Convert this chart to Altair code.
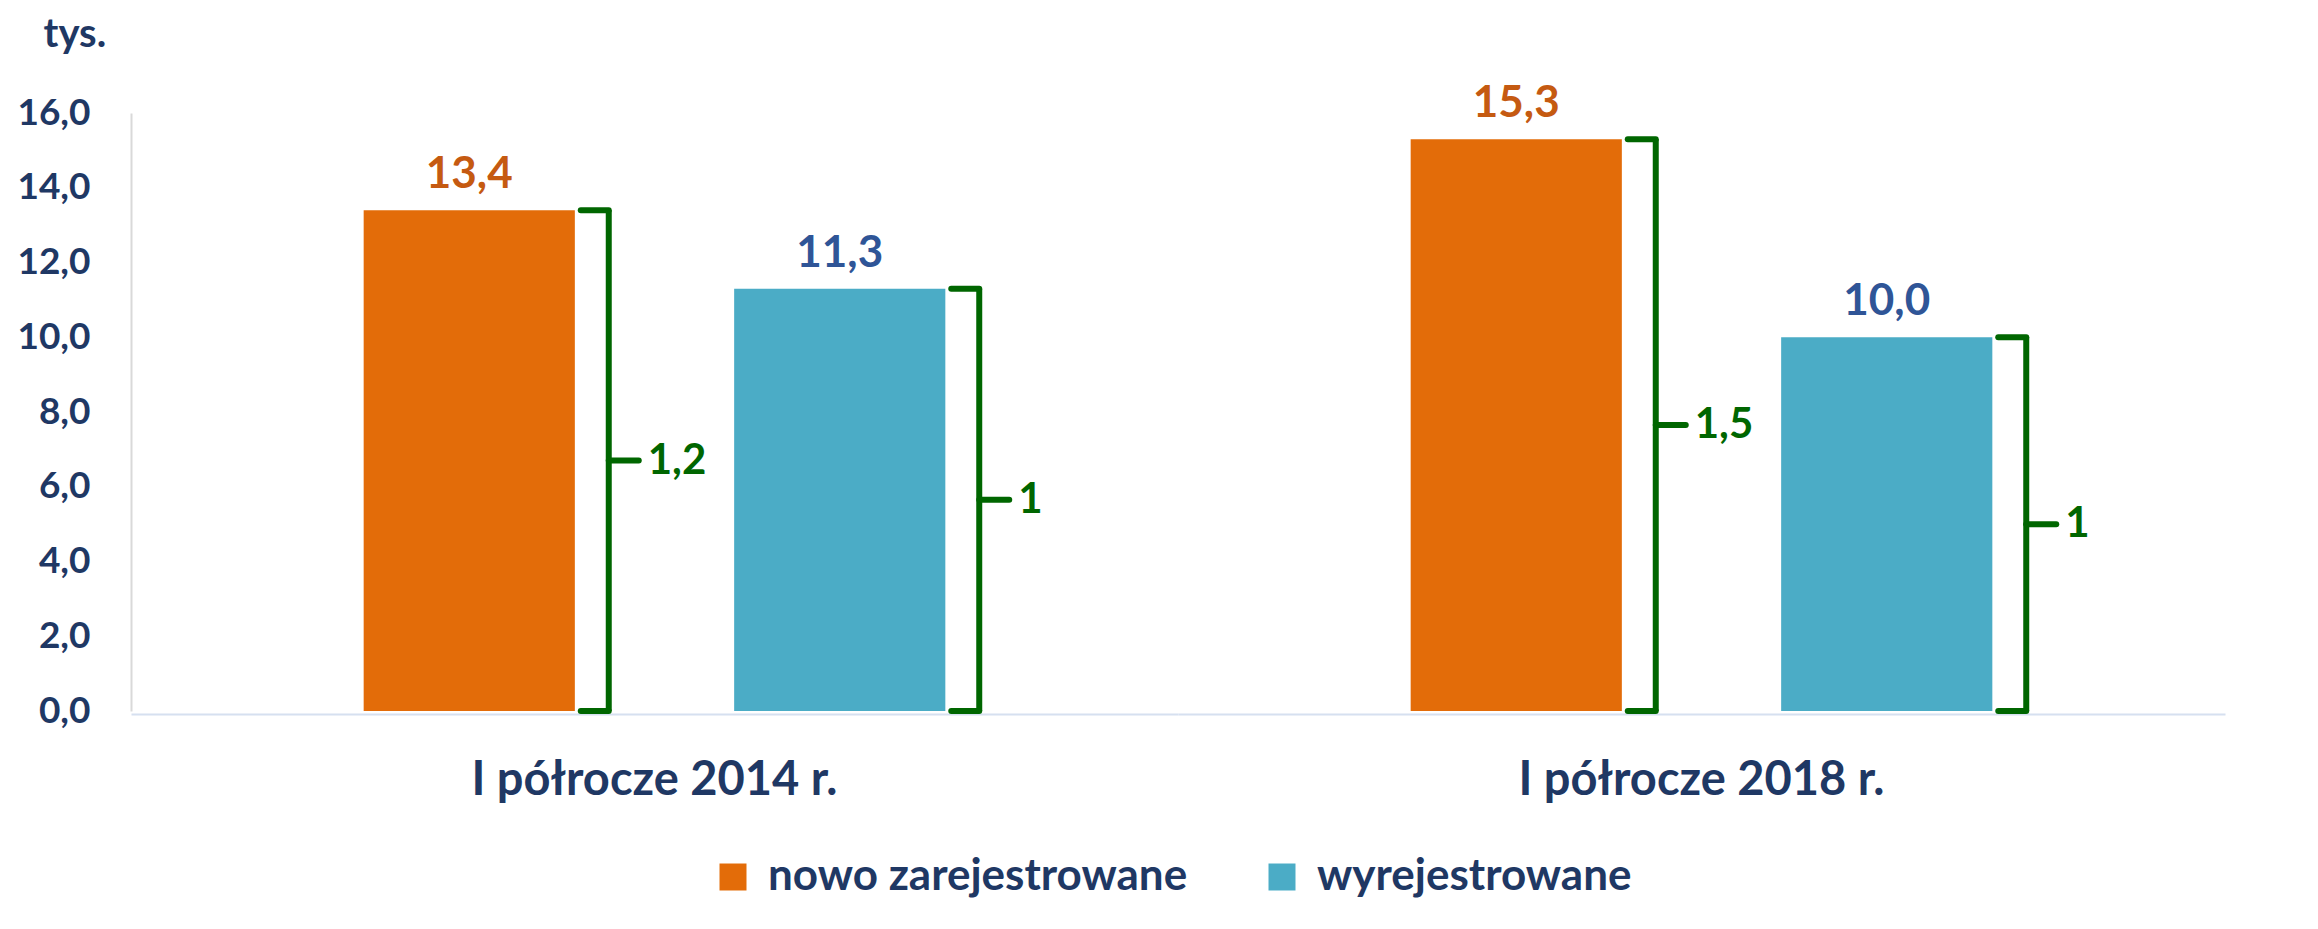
import altair as alt
import pandas as pd

# ---- data ----
groups = ["I półrocze 2014 r.", "I półrocze 2014 r.", "I półrocze 2018 r.", "I półrocze 2018 r."]
series = ["nowo zarejestrowane", "wyrejestrowane", "nowo zarejestrowane", "wyrejestrowane"]
values = [13.4, 11.3, 15.3, 10.0]
ratios = ["1,2", "1", "1,5", "1"]
y_ticks = [0, 2, 4, 6, 8, 10, 12, 14, 16]
group_order = ["I półrocze 2014 r.", "I półrocze 2018 r."]
series_order = ["nowo zarejestrowane", "wyrejestrowane"]

# ---- styles ----
bar_colors = ["#E36C09", "#4BACC6"]
label_colors = ["#C55A11", "#2F5597"]
NAVY = "#1F3864"
GREEN = "#006600"
BW = 211            # bar band width in px
BR = BW / 2 + 34    # bracket offset from band centre
FONT = "Lato"

df = pd.DataFrame({"group": groups, "series": series, "value": values, "ratio": ratios})

x_enc = alt.X(
    "series:N",
    sort=series_order,
    scale=alt.Scale(domain=series_order, paddingInner=0.43, paddingOuter=0.628),
    axis=alt.Axis(labels=False, ticks=False, title=None, domainColor="#D6E0F0", domainWidth=2),
)
y_enc = alt.Y(
    "value:Q",
    scale=alt.Scale(domain=[0, 16], nice=False),
    axis=alt.Axis(
        values=y_ticks,
        labelExpr="replace(format(datum.value, '.1f'), '.', ',')",
        ticks=False, grid=False,
        domainColor="#D9D9D9", domainWidth=2,
        labelFont=FONT, labelFontSize=37, labelFontWeight="bold", labelColor=NAVY,
        labelPadding=41,
        title="tys.", titleAngle=0, titleAlign="left", titleBaseline="alphabetic",
        titleX=-88, titleY=-67,
        titleFont=FONT, titleFontSize=40, titleFontWeight="bold", titleColor=NAVY,
    ),
)

base = alt.Chart(df)

bars = base.mark_bar().encode(
    x=x_enc,
    y=y_enc,
    color=alt.Color(
        "series:N",
        scale=alt.Scale(domain=series_order, range=bar_colors),
        legend=alt.Legend(
            title=None, orient="none", legendX=580, legendY=742, direction="horizontal",
            symbolType="square", symbolSize=729, symbolStrokeWidth=0,
            labelFont=FONT, labelFontSize=44, labelFontWeight="bold", labelColor=NAVY,
            labelOffset=13, columnPadding=72, labelLimit=1000,
        ),
    ),
)

labels = base.mark_text(font=FONT, fontSize=44, fontWeight="bold", baseline="alphabetic", dy=-22).encode(
    x=alt.X("series:N", sort=series_order),
    y="value:Q",
    text="label:N",
    color=alt.condition(alt.datum.series == series_order[0], alt.value(label_colors[0]), alt.value(label_colors[1])),
)

vert = base.mark_rule(stroke=GREEN, strokeWidth=6, xOffset=BR).encode(
    x=alt.X("series:N", sort=series_order), y="value:Q", y2=alt.Y2("zero")
)
top_hook = base.mark_rule(stroke=GREEN, strokeWidth=6, strokeCap="round", xOffset=BR - 28, x2Offset=BR).encode(
    x=alt.X("series:N", sort=series_order), x2=alt.X2("series"), y="value:Q"
)
bot_hook = base.mark_rule(stroke=GREEN, strokeWidth=6, strokeCap="round", xOffset=BR - 28, x2Offset=BR).encode(
    x=alt.X("series:N", sort=series_order), x2=alt.X2("series"), y="zero:Q"
)
nub = base.mark_rule(stroke=GREEN, strokeWidth=6, strokeCap="round", xOffset=BR, x2Offset=BR + 30).encode(
    x=alt.X("series:N", sort=series_order), x2=alt.X2("series"), y="mid:Q"
)
ratio_text = base.mark_text(font=FONT, fontSize=42, fontWeight="bold", color=GREEN,
                            align="left", baseline="middle", dx=BR + 39).encode(
    x=alt.X("series:N", sort=series_order), y="mid:Q", text="ratio:N"
)

layer = alt.layer(bars, labels, vert, top_hook, bot_hook, nub, ratio_text).transform_calculate(
    zero="0",
    mid="datum.value / 2",
    label="replace(format(datum.value, '.1f'), '.', ',')",
).properties(width=1047, height=598)

chart = layer.facet(
    column=alt.Column(
        "group:N", sort=group_order,
        header=alt.Header(title=None, labelOrient="bottom", labelFont=FONT, labelFontSize=47,
                          labelFontWeight="bold", labelColor=NAVY, labelPadding=44),
    ),
    spacing=0,
).properties(
    padding={"left": 8, "top": 6, "right": 5, "bottom": 5},
    background="white",
).configure_view(strokeWidth=0, stroke="transparent")

chart.save("out.html", embed_options={"renderer": "svg", "actions": False})
